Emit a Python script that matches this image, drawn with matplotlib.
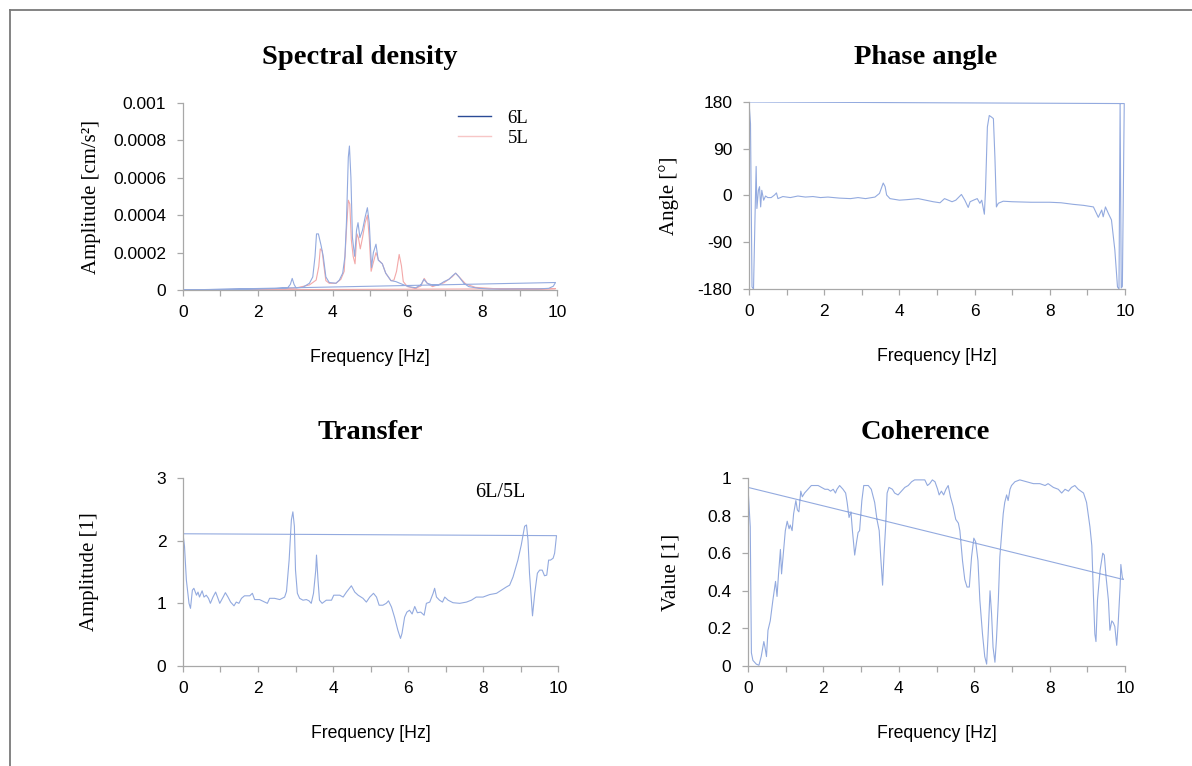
import numpy as np
import matplotlib
matplotlib.use("Agg")
import matplotlib.pyplot as plt
from matplotlib.lines import Line2D
from matplotlib.ticker import FixedLocator, FuncFormatter

# ---- data ----
freq_6l = [0.0, 0.5, 1.0, 1.5, 2.0, 2.5, 2.8, 2.87, 2.92, 2.97, 3.02, 3.2, 3.38, 3.47, 3.53,
           3.57, 3.62, 3.69, 3.75, 3.82, 3.91, 4.09, 4.18, 4.27, 4.33, 4.37, 4.42, 4.45, 4.49,
           4.53, 4.59, 4.64, 4.68, 4.73, 4.8, 4.87, 4.93, 4.98, 5.04, 5.09, 5.16, 5.22, 5.33,
           5.42, 5.56, 5.69, 5.87, 6.04, 6.22, 6.36, 6.44, 6.53, 6.67, 6.84, 6.98, 7.11, 7.2,
           7.29, 7.38, 7.51, 7.64, 7.91, 8.18, 8.6, 9.0, 9.5, 9.78, 9.9, 9.96]
amp_6l = [0, 2e-6, 3e-6, 4e-6, 5e-6, 8e-6, 1.2e-5, 3e-5, 6.2e-5, 3e-5, 1.2e-5, 1.4e-5, 3.6e-5,
          7e-5, 1.8e-4, 3e-4, 3e-4, 2.4e-4, 1.8e-4, 7e-5, 4e-5, 3.6e-5, 5.3e-5, 9e-5, 1.8e-4,
          3.6e-4, 7.1e-4, 7.7e-4, 6e-4, 2.8e-4, 1.8e-4, 3.2e-4, 3.6e-4, 2.8e-4, 3.2e-4, 3.9e-4,
          4.4e-4, 3.6e-4, 1.2e-4, 2e-4, 2.45e-4, 1.6e-4, 1.4e-4, 9e-5, 5e-5, 4.5e-5, 3e-5,
          1.8e-5, 1.2e-5, 2.7e-5, 5.7e-5, 3.6e-5, 2.7e-5, 2.7e-5, 4.5e-5, 5.7e-5, 7.5e-5, 9e-5,
          7e-5, 3.6e-5, 1.8e-5, 9e-6, 5e-6, 5e-6, 6e-6, 6e-6, 9e-6, 2e-5, 4e-5]

freq_5l = [0.0, 0.5, 1.0, 1.5, 2.0, 2.5, 3.0, 3.38, 3.56, 3.63, 3.67, 3.72, 3.76, 3.82, 3.91,
           4.09, 4.22, 4.31, 4.37, 4.42, 4.46, 4.5, 4.55, 4.6, 4.65, 4.69, 4.74, 4.8, 4.87,
           4.93, 4.98, 5.03, 5.08, 5.16, 5.23, 5.33, 5.42, 5.56, 5.64, 5.71, 5.78, 5.84, 5.89,
           6.0, 6.22, 6.36, 6.45, 6.53, 6.67, 6.98, 7.2, 7.29, 7.42, 7.56, 7.82, 8.5, 9.5, 9.96]
amp_5l = [0, 1e-6, 2e-6, 3e-6, 4e-6, 6e-6, 1e-5, 2.7e-5, 5.3e-5, 1.25e-4, 2.2e-4, 2.1e-4,
          1.4e-4, 5e-5, 3.6e-5, 3.6e-5, 5.7e-5, 1e-4, 3.2e-4, 4.8e-4, 4.6e-4, 2.7e-4, 1.8e-4,
          1.4e-4, 3e-4, 2.8e-4, 2.2e-4, 2.8e-4, 3.6e-4, 4e-4, 2.8e-4, 1e-4, 1.4e-4, 2e-4,
          1.6e-4, 1.4e-4, 9e-5, 5e-5, 5.3e-5, 1e-4, 1.9e-4, 1.3e-4, 4.5e-5, 1.8e-5, 9e-6,
          2.1e-5, 6.2e-5, 3.6e-5, 1.8e-5, 3.9e-5, 7.1e-5, 9e-5, 6.2e-5, 3.2e-5, 1.4e-5, 5e-6,
          4e-6, 7e-6]

freq_ph = [0.0, 0.04, 0.08, 0.12, 0.16, 0.19, 0.21, 0.25, 0.28, 0.31, 0.34, 0.39, 0.44, 0.5,
           0.59, 0.68, 0.73, 0.77, 0.9, 1.1, 1.3, 1.5, 1.7, 1.9, 2.1, 2.4, 2.7, 2.9, 3.1, 3.35,
           3.47, 3.57, 3.62, 3.66, 3.75, 4.0, 4.2, 4.5, 4.7, 4.9, 5.08, 5.2, 5.4, 5.5, 5.65,
           5.74, 5.83, 5.88, 5.97, 6.07, 6.14, 6.19, 6.26, 6.29, 6.34, 6.39, 6.45, 6.5, 6.54,
           6.58, 6.63, 6.76, 7.0, 7.5, 8.0, 8.3, 8.62, 8.9, 9.16, 9.29, 9.38, 9.42, 9.48, 9.56,
           9.64, 9.73, 9.8, 9.84, 9.87, 9.9, 9.93, 9.98]
angle = [180, 138, -176, -180, -41, 56, -25, 10, 17, -22, 10, -9, -1, -4, -4, 1, 5, -6, -2, -4,
         -1, -3, -2, -4, -3, -5, -6, -4, -6, -3, 4, 24, 17, 1, -6, -9, -8, -6, -9, -12, -14,
         -6, -12, -9, 2, -9, -23, -12, -9, -6, -15, -9, -36, 10, 132, 154, 151, 148, 74, -22,
         -15, -11, -12, -13, -13, -14, -17, -19, -22, -42, -28, -41, -22, -35, -47, -105, -176,
         -180, 177, -178, -175, 177]

freq_tr = [0.0, 0.04, 0.09, 0.16, 0.2, 0.25, 0.29, 0.36, 0.4, 0.44, 0.51, 0.56, 0.62, 0.68,
           0.73, 0.8, 0.87, 0.92, 0.98, 1.07, 1.13, 1.2, 1.27, 1.36, 1.42, 1.49, 1.56, 1.64,
           1.78, 1.85, 1.91, 2.04, 2.18, 2.25, 2.31, 2.44, 2.58, 2.71, 2.76, 2.83, 2.89, 2.93,
           2.97, 3.0, 3.05, 3.11, 3.2, 3.29, 3.36, 3.42, 3.48, 3.54, 3.56, 3.6, 3.64, 3.71,
           3.82, 3.96, 4.02, 4.18, 4.27, 4.36, 4.49, 4.58, 4.67, 4.8, 4.89, 4.98, 5.08, 5.16,
           5.23, 5.33, 5.42, 5.48, 5.56, 5.64, 5.73, 5.8, 5.84, 5.91, 5.97, 6.04, 6.11, 6.18,
           6.25, 6.34, 6.43, 6.49, 6.58, 6.67, 6.71, 6.76, 6.84, 6.92, 6.98, 7.07, 7.2, 7.38,
           7.56, 7.69, 7.82, 8.0, 8.18, 8.36, 8.49, 8.62, 8.71, 8.8, 8.93, 9.02, 9.11, 9.16,
           9.2, 9.24, 9.32, 9.38, 9.45, 9.51, 9.58, 9.64, 9.7, 9.75, 9.8, 9.87, 9.91, 9.96]
ratio = [2.11, 1.91, 1.37, 1.0, 0.92, 1.21, 1.24, 1.13, 1.18, 1.1, 1.2, 1.1, 1.13, 1.08, 1.0,
         1.1, 1.18, 1.1, 1.0, 1.1, 1.17, 1.1, 1.02, 0.96, 1.02, 1.0, 1.08, 1.12, 1.12, 1.16,
         1.06, 1.06, 1.02, 1.0, 1.08, 1.08, 1.06, 1.1, 1.19, 1.69, 2.33, 2.46, 2.23, 1.53, 1.16,
         1.08, 1.05, 1.06, 1.04, 1.0, 1.16, 1.53, 1.77, 1.37, 1.05, 1.0, 1.05, 1.05, 1.13,
         1.13, 1.1, 1.18, 1.28, 1.18, 1.13, 1.08, 1.02, 1.1, 1.16, 1.1, 0.97, 0.97, 1.0, 1.04,
         0.94, 0.78, 0.57, 0.44, 0.52, 0.78, 0.86, 0.89, 0.83, 0.95, 0.85, 0.86, 0.81, 1.0,
         1.02, 1.16, 1.24, 1.1, 1.05, 1.02, 1.1, 1.05, 1.01, 1.0, 1.02, 1.05, 1.1, 1.1, 1.14,
         1.16, 1.21, 1.26, 1.29, 1.42, 1.69, 1.93, 2.23, 2.25, 2.01, 1.48, 0.8, 1.16, 1.48,
         1.53, 1.53, 1.44, 1.45, 1.69, 1.69, 1.72, 1.8, 2.08]

freq_co = [0.0, 0.06, 0.09, 0.13, 0.22, 0.29, 0.35, 0.42, 0.45, 0.49, 0.53, 0.59, 0.66, 0.73,
           0.77, 0.81, 0.86, 0.89, 0.93, 0.99, 1.04, 1.09, 1.12, 1.17, 1.21, 1.27, 1.31, 1.35,
           1.4, 1.44, 1.5, 1.59, 1.68, 1.77, 1.86, 1.95, 2.04, 2.12, 2.19, 2.26, 2.32, 2.36,
           2.43, 2.52, 2.59, 2.63, 2.68, 2.73, 2.77, 2.83, 2.88, 2.92, 2.96, 3.02, 3.07, 3.19,
           3.27, 3.36, 3.42, 3.48, 3.52, 3.57, 3.61, 3.65, 3.69, 3.74, 3.83, 3.89, 3.98, 4.07,
           4.16, 4.25, 4.34, 4.42, 4.56, 4.69, 4.76, 4.82, 4.89, 4.96, 5.03, 5.07, 5.13, 5.19,
           5.25, 5.31, 5.37, 5.44, 5.51, 5.58, 5.62, 5.69, 5.75, 5.81, 5.87, 5.93, 5.99, 6.04,
           6.1, 6.15, 6.22, 6.28, 6.33, 6.37, 6.42, 6.46, 6.5, 6.55, 6.59, 6.64, 6.68, 6.73,
           6.77, 6.81, 6.86, 6.9, 6.95, 6.99, 7.08, 7.21, 7.39, 7.57, 7.74, 7.88, 7.96, 8.1,
           8.23, 8.32, 8.41, 8.5, 8.58, 8.67, 8.76, 8.9, 8.98, 9.07, 9.12, 9.16, 9.2, 9.23,
           9.27, 9.34, 9.41, 9.45, 9.5, 9.56, 9.6, 9.65, 9.69, 9.73, 9.78, 9.82, 9.87, 9.89,
           9.93, 9.96]
coher = [0.95, 0.74, 0.07, 0.03, 0.01, 0.004, 0.05, 0.13, 0.1, 0.05, 0.19, 0.24, 0.35, 0.45,
         0.37, 0.49, 0.62, 0.49, 0.58, 0.72, 0.77, 0.73, 0.75, 0.72, 0.81, 0.88, 0.83, 0.82,
         0.93, 0.9, 0.92, 0.94, 0.96, 0.96, 0.96, 0.95, 0.94, 0.94, 0.93, 0.94, 0.92, 0.94,
         0.96, 0.94, 0.92, 0.87, 0.79, 0.82, 0.72, 0.59, 0.66, 0.71, 0.72, 0.88, 0.96, 0.96,
         0.94, 0.87, 0.78, 0.72, 0.58, 0.43, 0.6, 0.74, 0.92, 0.95, 0.94, 0.92, 0.91, 0.93,
         0.95, 0.96, 0.98, 0.99, 0.99, 0.99, 0.96, 0.97, 0.99, 0.98, 0.94, 0.91, 0.93, 0.91,
         0.94, 0.96, 0.9, 0.85, 0.78, 0.76, 0.72, 0.56, 0.46, 0.42, 0.42, 0.58, 0.68, 0.66,
         0.56, 0.35, 0.17, 0.05, 0.01, 0.17, 0.4, 0.28, 0.1, 0.02, 0.14, 0.35, 0.58, 0.71,
         0.81, 0.87, 0.91, 0.88, 0.94, 0.96, 0.98, 0.99, 0.98, 0.97, 0.97, 0.96, 0.97, 0.95,
         0.94, 0.92, 0.94, 0.93, 0.95, 0.96, 0.94, 0.92, 0.87, 0.74, 0.64, 0.39, 0.17, 0.13,
         0.35, 0.51, 0.6, 0.59, 0.47, 0.35, 0.19, 0.24, 0.23, 0.21, 0.11, 0.23, 0.42, 0.54,
         0.47, 0.46]

x_ticks = list(range(0, 11))
x_labels = ["0", "", "2", "", "4", "", "6", "", "8", "", "10"]

BLUE = "#93aadf"
RED = "#f3a8a8"
GREY = "#a8a8a8"
SERIF = ["Liberation Serif", "DejaVu Serif"]

plt.rcParams["font.family"] = ["Liberation Sans", "DejaVu Sans"]


def closed(x, y):
    # the source plots each record as a loop: last point joins the first
    return np.append(x, x[0]), np.append(y, y[0])


def style_axis(ax, yticks, ylabel, ylab_x):
    for s in ("top", "right"):
        ax.spines[s].set_visible(False)
    for s in ("left", "bottom"):
        ax.spines[s].set_color(GREY)
        ax.spines[s].set_linewidth(0.9)
    ax.set_xlim(0, 10)
    ax.set_ylim(yticks[0], yticks[-1])
    ax.xaxis.set_major_locator(FixedLocator(x_ticks))
    ax.set_xticklabels(x_labels)
    ax.yaxis.set_major_locator(FixedLocator(yticks))
    ax.yaxis.set_major_formatter(FuncFormatter(lambda v, p: f"{v:g}"))
    ax.tick_params(colors=GREY, labelcolor="black", labelsize=12.5, length=4, width=0.9)
    ax.tick_params(axis="x", pad=7)
    ax.tick_params(axis="y", pad=8)
    ax.set_xlabel("Frequency [Hz]", fontsize=12.7, labelpad=21)
    ax.set_ylabel(ylabel, family=SERIF, fontsize=15, va="center")
    ax.yaxis.set_label_coords(ylab_x, 0.5)
    ax.patch.set_alpha(0)


def main():
    fig = plt.figure(figsize=(11.92, 7.66), dpi=100)
    W, H = 1192, 766

    def axes_px(l, r, t, b):
        return fig.add_axes([l / W, 1 - b / H, (r - l) / W, (b - t) / H])

    ax1 = axes_px(183, 557, 103, 290)
    ax2 = axes_px(749, 1125, 102, 289)
    ax3 = axes_px(183, 558, 478, 666)
    ax4 = axes_px(748, 1125, 478, 666)

    # Spectral density
    ax1.plot(*closed(freq_5l, amp_5l), color=RED, lw=0.8)
    ax1.plot(*closed(freq_6l, amp_6l), color=BLUE, lw=0.8)
    style_axis(ax1, [0, 0.0002, 0.0004, 0.0006, 0.0008, 0.001], "Amplitude [cm/s²]", -0.245)
    handles = [Line2D([], [], color="#2a4b96", lw=1.0), Line2D([], [], color="#f7c6c6", lw=1.0)]
    ax1.legend(handles, ["6L", "5L"], loc="upper left", bbox_to_anchor=(0.735, 0.965),
               frameon=False, prop={"family": SERIF, "size": 13.5}, handlelength=1.75,
               handletextpad=0.9, labelspacing=0.15, borderpad=0, borderaxespad=0)

    # Phase angle
    ax2.plot(*closed(freq_ph, angle), color=BLUE, lw=0.8)
    style_axis(ax2, [-180, -90, 0, 90, 180], "Angle [°]", -0.212)

    # Transfer
    ax3.plot(*closed(freq_tr, ratio), color=BLUE, lw=0.8)
    style_axis(ax3, [0, 1, 2, 3], "Amplitude [1]", -0.25)
    ax3.text(0.845, 0.925, "6L/5L", transform=ax3.transAxes, ha="center", va="center",
             family=SERIF, fontsize=14.5)

    # Coherence
    ax4.plot(*closed(freq_co, coher), color=BLUE, lw=0.8)
    style_axis(ax4, [0, 0.2, 0.4, 0.6, 0.8, 1.0], "Value [1]", -0.203)

    for txt, xc, yc in [("Spectral density", 360, 57), ("Phase angle", 926, 57),
                        ("Transfer", 370, 432), ("Coherence", 925, 432)]:
        fig.text(xc / W, 1 - yc / H, txt, ha="center", va="center", family=SERIF,
                 fontsize=20.5, fontweight="bold")

    # frame around the figure (top and left edges only visible)
    fig.add_artist(Line2D([10 / W, 1], [1 - 10 / H] * 2, transform=fig.transFigure,
                          color="#7a7a7a", lw=1.3))
    fig.add_artist(Line2D([10 / W] * 2, [1 - 10 / H, 0], transform=fig.transFigure,
                          color="#7a7a7a", lw=1.3))

    fig.savefig("out.png", dpi=100)


if __name__ == "__main__":
    main()
